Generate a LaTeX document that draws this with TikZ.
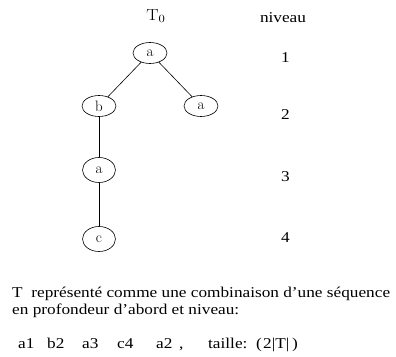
\documentclass[tikz,border=0pt]{standalone}
\usepackage{fontspec}
\usetikzlibrary{shapes.geometric}
\newfontfamily\timesf{Liberation Serif}
\newcommand\hstretch[1]{\scalebox{1.15}[1]{#1}}
\begin{document}
\begin{tikzpicture}[x=1pt,y=-1pt,
  tnode/.style={draw,ellipse,line width=0.6pt,inner sep=0pt,font=\fontsize{15}{17}\selectfont},
  upper/.style={minimum width=34pt,minimum height=21pt},
  lower/.style={minimum width=33pt,minimum height=25pt},
  txt/.style={inner sep=0pt,font=\timesf\fontsize{15}{17}\selectfont},
  edge/.style={line width=0.6pt}]
\useasboundingbox (0,0) rectangle (396,356);
\node[inner sep=0pt,font=\fontsize{16}{18}\selectfont] (t0) at (156,16) {\hstretch{$\mathrm{T}_0$}};
\node[txt] (niv) at (283,18) {\hstretch{niveau}};
\node[txt] (l1) at (285.5,58) {\hstretch{1}};
\node[txt] (l2) at (285.5,115) {\hstretch{2}};
\node[txt] (l3) at (285.5,177) {\hstretch{3}};
\node[txt] (l4) at (285.5,238) {\hstretch{4}};
\node[tnode,upper] (r) at (150,53) {a};
\node[tnode,upper] (b) at (99,106) {b};
\node[tnode,upper] (ra) at (201,106) {a};
\node[tnode,lower] (a3) at (99,170) {a};
\node[tnode,lower] (c) at (99,239) {c};
\draw[edge] (r) -- (b);
\draw[edge] (r) -- (ra);
\draw[edge] (b) -- (a3);
\draw[edge] (a3) -- (c);
\node[txt,anchor=base west] (s1) at (12,297) {\hstretch{T\ \ représenté comme une combinaison d’une séquence}};
\node[txt,anchor=base west] (s2) at (12,314) {\hstretch{en profondeur d’abord et niveau:}};
\node[txt,anchor=base west] (w1) at (18,348) {\hstretch{a1}};
\node[txt,anchor=base west] (w2) at (47,348) {\hstretch{b2}};
\node[txt,anchor=base west] (w3) at (82,348) {\hstretch{a3}};
\node[txt,anchor=base west] (w4) at (117,348) {\hstretch{c4}};
\node[txt,anchor=base west] (w5) at (156,348) {\hstretch{a2}};
\node[txt,anchor=base west] (w6) at (179,348) {\hstretch{,}};
\node[txt,anchor=base west] (w7) at (208,348) {\hstretch{taille:}};
\node[txt,anchor=base west] (w8) at (256,348) {\hstretch{(}};
\node[txt,anchor=base west] (w9) at (263,348) {\hstretch{2|T|}};
\node[txt,anchor=base west] (w10) at (292,348) {\hstretch{)}};
\end{tikzpicture}
\end{document}
